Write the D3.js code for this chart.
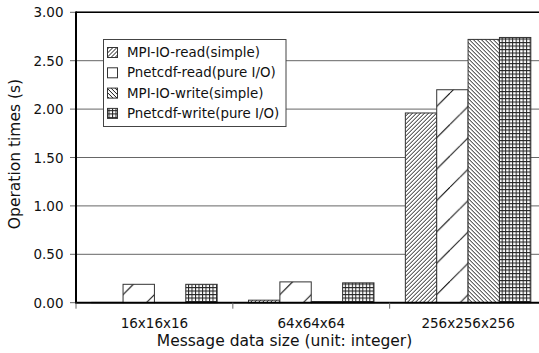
<!DOCTYPE html>
<html>
<head>
<meta charset="utf-8">
<script src="https://cdn.jsdelivr.net/npm/d3@7"></script>
<style>
  html, body { margin: 0; padding: 0; background: #fff; }
  svg { display: block; font-family: "DejaVu Sans", sans-serif; }
</style>
</head>
<body>
<svg id="chart" width="539" height="353"></svg>
<script>
// Message sizes on the x axis
const categories = ["16x16x16", "64x64x64", "256x256x256"];
// Series names, in bar order within a group
const seriesNames = ["MPI-IO-read(simple)", "Pnetcdf-read(pure I/O)", "MPI-IO-write(simple)", "Pnetcdf-write(pure I/O)"];
// Operation times in seconds, one value per category
const mpiioRead = [0.003, 0.026, 1.96];
const pnetcdfRead = [0.19, 0.215, 2.20];
const mpiioWrite = [0.002, 0.012, 2.72];
const pnetcdfWrite = [0.19, 0.205, 2.74];
const yTicks = [0, 0.5, 1.0, 1.5, 2.0, 2.5, 3.0];

const seriesValues = [mpiioRead, pnetcdfRead, mpiioWrite, pnetcdfWrite];

const svg = d3.select("#chart");
const plotL = 76, plotR = 546.5, plotT = 12.3, plotB = 302.7;

const x0 = d3.scaleBand().domain(categories).range([plotL, plotR]).paddingInner(0).paddingOuter(0);
const x1 = d3.scaleBand().domain(seriesNames).range([0, x0.bandwidth()]).paddingInner(0).paddingOuter(0.5);
const y = d3.scaleLinear().domain([0, 3]).range([plotB, plotT]);

const defs = svg.append("defs");
const bw = x1.bandwidth();

// dense "/" hatch
const pRead = defs.append("pattern").attr("id", "hatchRead")
  .attr("patternUnits", "userSpaceOnUse").attr("width", 4).attr("height", 4);
pRead.append("rect").attr("width", 4).attr("height", 4).attr("fill", "#fff");
pRead.append("path").attr("d", "M-1,1 L1,-1 M0,4 L4,0 M3,5 L5,3")
  .attr("stroke", "#000").attr("stroke-width", 0.9);

// dense "\" hatch
const pWrite = defs.append("pattern").attr("id", "hatchWrite")
  .attr("patternUnits", "userSpaceOnUse").attr("width", 4).attr("height", 4);
pWrite.append("rect").attr("width", 4).attr("height", 4).attr("fill", "#fff");
pWrite.append("path").attr("d", "M-1,3 L1,5 M0,0 L4,4 M3,-1 L5,1")
  .attr("stroke", "#000").attr("stroke-width", 0.9);

// fine square grid
const pGrid = defs.append("pattern").attr("id", "gridWrite")
  .attr("patternUnits", "userSpaceOnUse").attr("width", 3.5).attr("height", 3.5);
pGrid.append("rect").attr("width", 3.5).attr("height", 3.5).attr("fill", "#fff");
pGrid.append("path").attr("d", "M0,0.5 H3.5 M0.5,0 V3.5")
  .attr("stroke", "#222").attr("stroke-width", 1);

// sparse "/" lines, one tile per bar width, anchored to each bar
categories.forEach((c, i) => {
  const bx = x0(c) + x1(seriesNames[1]);
  const p = defs.append("pattern").attr("id", "sparseRead" + i)
    .attr("patternUnits", "userSpaceOnUse")
    .attr("x", bx).attr("y", plotB)
    .attr("width", bw).attr("height", bw);
  p.append("rect").attr("width", bw).attr("height", bw).attr("fill", "#fff");
  const k = 10;
  p.append("path")
    .attr("d", `M0,${k} L${k},0 M${k},${bw} L${bw},${k}`)
    .attr("stroke", "#000").attr("stroke-width", 1);
});

const fills = [
  () => "url(#hatchRead)",
  (i) => `url(#sparseRead${i})`,
  () => "url(#hatchWrite)",
  () => "url(#gridWrite)"
];

// horizontal gridlines and y ticks
svg.append("g").selectAll("line").data(yTicks).join("line")
  .attr("x1", plotL - 6).attr("x2", 539)
  .attr("y1", d => y(d)).attr("y2", d => y(d))
  .attr("stroke", d => d === 0 ? "none" : "#666").attr("stroke-width", 1);
svg.append("g").selectAll("line").data([0]).join("line")
  .attr("x1", plotL - 6).attr("x2", plotL)
  .attr("y1", y(0)).attr("y2", y(0)).attr("stroke", "#666");

svg.append("g").selectAll("text").data(yTicks).join("text")
  .attr("x", 63.5).attr("y", d => y(d))
  .attr("text-anchor", "end").attr("dominant-baseline", "central")
  .attr("font-size", 13.5).attr("fill", "#111")
  .text(d => d3.format(".2f")(d));

// bars
const groups = svg.append("g").selectAll("g").data(categories).join("g")
  .attr("transform", c => `translate(${x0(c)},0)`);
groups.selectAll("rect")
  .data((c, ci) => seriesNames.map((s, si) => ({ s, si, ci, v: seriesValues[si][ci] })))
  .join("rect")
  .attr("x", d => x1(d.s))
  .attr("width", bw)
  .attr("y", d => y(d.v))
  .attr("height", d => y(0) - y(d.v))
  .attr("fill", d => fills[d.si](d.ci))
  .attr("stroke", "#333").attr("stroke-width", 1);

// axes frame
svg.append("line").attr("x1", plotL).attr("x2", 539).attr("y1", plotT).attr("y2", plotT)
  .attr("stroke", "#000").attr("stroke-width", 1.5);
svg.append("line").attr("x1", plotL).attr("x2", plotL).attr("y1", plotT - 0.75).attr("y2", plotB + 1)
  .attr("stroke", "#000").attr("stroke-width", 2);
svg.append("line").attr("x1", plotL).attr("x2", 539).attr("y1", plotB).attr("y2", plotB)
  .attr("stroke", "#000").attr("stroke-width", 2);

// x ticks at group boundaries
const xBounds = categories.map(c => x0(c));
svg.append("g").selectAll("line").data(xBounds).join("line")
  .attr("x1", d => d).attr("x2", d => d)
  .attr("y1", plotB).attr("y2", plotB + 6)
  .attr("stroke", "#666").attr("stroke-width", 1);

svg.append("g").selectAll("text").data(categories).join("text")
  .attr("x", c => x0(c) + x0.bandwidth() / 2).attr("y", 323)
  .attr("text-anchor", "middle").attr("dominant-baseline", "central")
  .attr("font-size", 13.5).attr("fill", "#111")
  .text(c => c);

// axis titles
svg.append("text").attr("x", 284.5).attr("y", 341)
  .attr("text-anchor", "middle").attr("dominant-baseline", "central")
  .attr("font-size", 15.5).attr("fill", "#111")
  .text("Message data size (unit: integer)");
svg.append("text")
  .attr("transform", "translate(15,154) rotate(-90)")
  .attr("text-anchor", "middle").attr("dominant-baseline", "central")
  .attr("font-size", 15.5).attr("fill", "#111")
  .text("Operation times (s)");

// legend
const lg = svg.append("g");
lg.append("rect").attr("x", 103.5).attr("y", 39.5).attr("width", 182.5).attr("height", 87)
  .attr("fill", "#fff").attr("stroke", "#444").attr("stroke-width", 1);
const rows = lg.selectAll("g").data(seriesNames).join("g")
  .attr("transform", (d, i) => `translate(0,${52.5 + i * 20.3})`);
rows.append("rect").attr("x", 107.5).attr("y", -5).attr("width", 10).attr("height", 10)
  .attr("fill", (d, i) => i === 1 ? "#fff" : fills[i](0))
  .attr("stroke", "#333").attr("stroke-width", 1);
rows.append("text").attr("x", 127).attr("y", 0)
  .attr("dominant-baseline", "central")
  .attr("font-size", 13.4).attr("fill", "#111")
  .text(d => d);
</script>
</body>
</html>
